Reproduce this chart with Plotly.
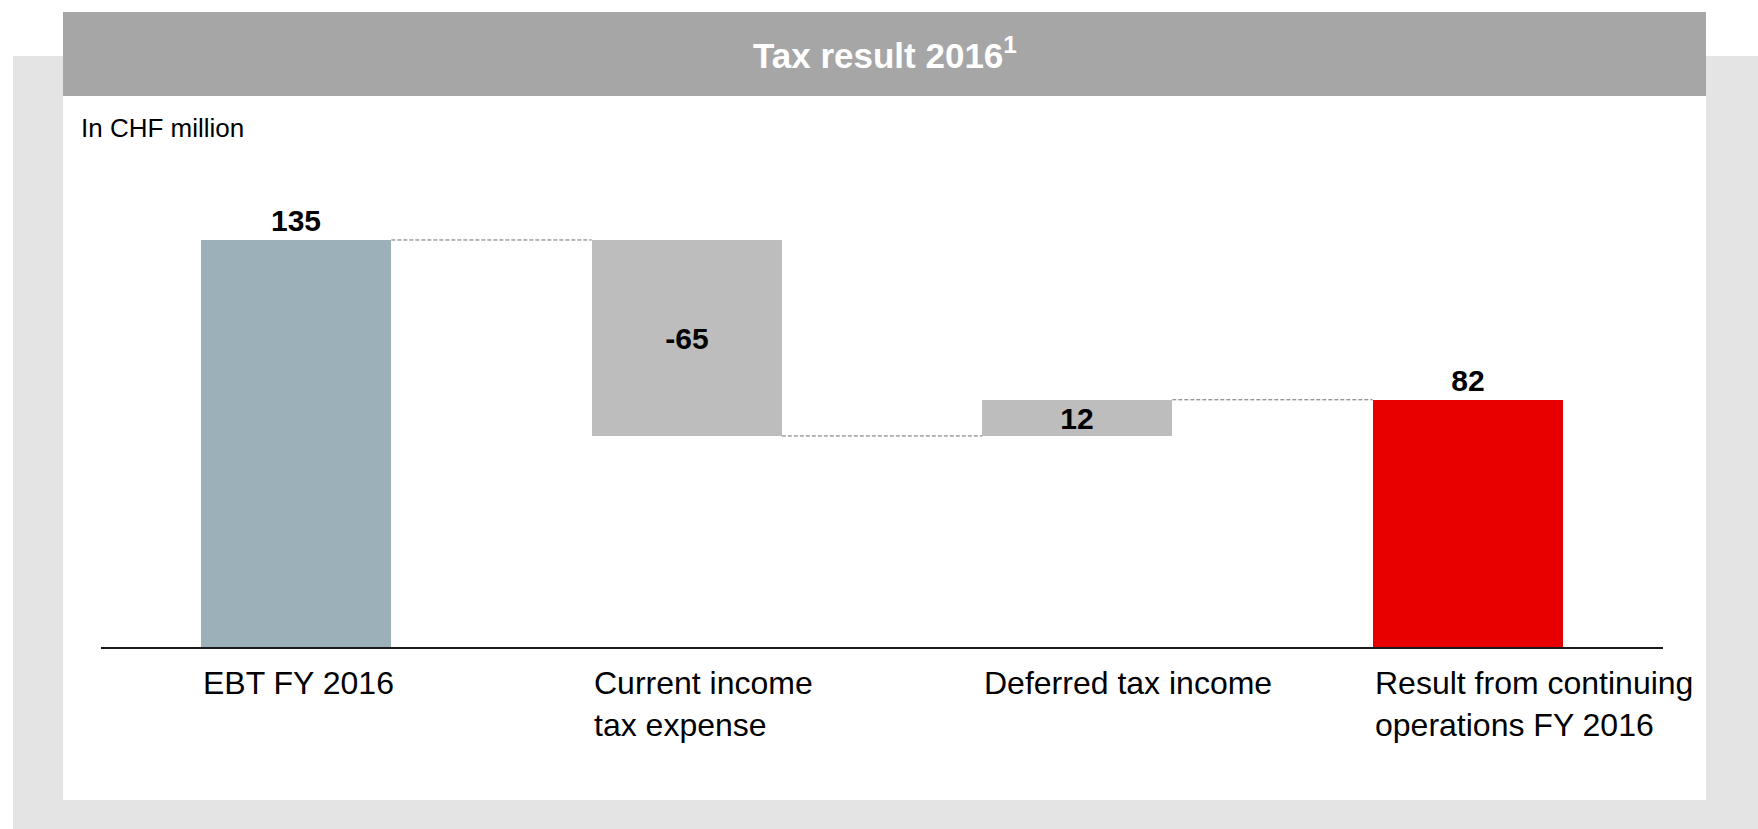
import plotly.graph_objects as go

# ---------------- data ----------------
categories = ["EBT FY 2016", "Current income tax expense", "Deferred tax income",
              "Result from continuing operations FY 2016"]
tick_labels = ["EBT FY 2016", "Current income<br>tax expense", "Deferred tax income",
               "Result from continuing<br>operations FY 2016"]
values = [135, -65, 12, 82]
measures = ["absolute", "relative", "relative", "total"]
bar_colors = ["#9BB0B8", "#BDBDBD", "#BDBDBD", "#E80000"]
label_positions = ["outside", "inside", "inside", "outside"]

title_text = "Tax result 2016<sup>1</sup>"
unit_text = "In CHF million"

# ---------------- waterfall geometry from data ----------------
bases, heights, levels = [], [], []
running = 0
for v, m in zip(values, measures):
    if m == "absolute":
        running = v
        bases.append(0); heights.append(v)
    elif m == "total":
        bases.append(0); heights.append(running)
    else:
        new = running + v
        bases.append(min(running, new)); heights.append(abs(v))
        running = new
    levels.append(running)

# ---------------- layout constants (pixels) ----------------
W, H = 1758, 829
PL, PR, PT, PB = 101, 95, 149, 182
pw, ph = W - PL - PR, H - PT - PB
BAR_W = 0.487
FONT = "Liberation Sans, Arial, sans-serif"


def px_x(px):
    return (px - PL) / pw


def px_y(py):
    return (H - PB - py) / ph


fig = go.Figure()
fig.add_trace(go.Bar(
    x=categories, y=heights, base=bases, width=BAR_W,
    marker=dict(color=bar_colors, line=dict(width=0)),
    text=[str(v) for v in values], textposition=label_positions,
    insidetextanchor="middle", cliponaxis=False,
    textfont=dict(family=FONT, size=30, color="#000000", weight="bold"),
    outsidetextfont=dict(family=FONT, size=30, color="#000000", weight="bold"),
    insidetextfont=dict(family=FONT, size=30, color="#000000", weight="bold"),
    hoverinfo="skip", showlegend=False,
))

shapes = [
    # outer light grey panel
    dict(type="rect", xref="paper", yref="paper", layer="below",
         x0=px_x(13), x1=px_x(W), y0=px_y(56), y1=px_y(H),
         fillcolor="#E4E4E4", line=dict(width=0)),
    # white panel
    dict(type="rect", xref="paper", yref="paper", layer="below",
         x0=px_x(63), x1=px_x(1706), y0=px_y(96), y1=px_y(800),
         fillcolor="#FFFFFF", line=dict(width=0)),
    # title bar
    dict(type="rect", xref="paper", yref="paper", layer="below",
         x0=px_x(63), x1=px_x(1706), y0=px_y(12), y1=px_y(96),
         fillcolor="#A6A6A6", line=dict(width=0)),
]
# dashed connectors between consecutive bars
for i in range(len(values) - 1):
    shapes.append(dict(type="line", xref="x", yref="y",
                       x0=i + BAR_W / 2, x1=i + 1 - BAR_W / 2,
                       y0=levels[i], y1=levels[i],
                       line=dict(color="#6E6E6E", width=1, dash="4px,2px")))

annotations = [
    dict(text="<b>" + title_text + "</b>", xref="paper", yref="paper",
         x=px_x((63 + 1706) / 2), y=px_y(53), xanchor="center", yanchor="middle",
         showarrow=False, font=dict(family=FONT, size=35, color="#FFFFFF")),
    dict(text=unit_text, xref="paper", yref="paper",
         x=px_x(79), y=px_y(128), xanchor="left", yanchor="middle",
         showarrow=False, font=dict(family=FONT, size=26, color="#000000")),
]
for i, lab in enumerate(tick_labels):
    annotations.append(dict(text=lab, xref="x", yref="paper",
                            x=i - BAR_W / 2, y=0, xanchor="left", yanchor="top",
                            yshift=-16, align="left", showarrow=False,
                            font=dict(family=FONT, size=32, color="#000000")))

fig.update_layout(
    width=W, height=H,
    margin=dict(l=PL, r=PR, t=PT, b=PB, pad=0),
    paper_bgcolor="#FFFFFF", plot_bgcolor="rgba(0,0,0,0)",
    shapes=shapes, annotations=annotations,
    uniformtext=dict(minsize=30, mode="show"),
    xaxis=dict(type="category", range=[-0.5, len(categories) - 0.5],
               showticklabels=False, ticks="", showgrid=False, zeroline=False,
               showline=True, linecolor="#1A1A1A", linewidth=2, fixedrange=True),
    yaxis=dict(range=[0, ph / 3.015], visible=False, showgrid=False,
               zeroline=False, fixedrange=True),
    font=dict(family=FONT),
    bargap=0,
)

fig.write_html("out.html", config={"displayModeBar": False},
               post_script="document.body.style.margin='0';document.body.style.overflow='hidden';")
